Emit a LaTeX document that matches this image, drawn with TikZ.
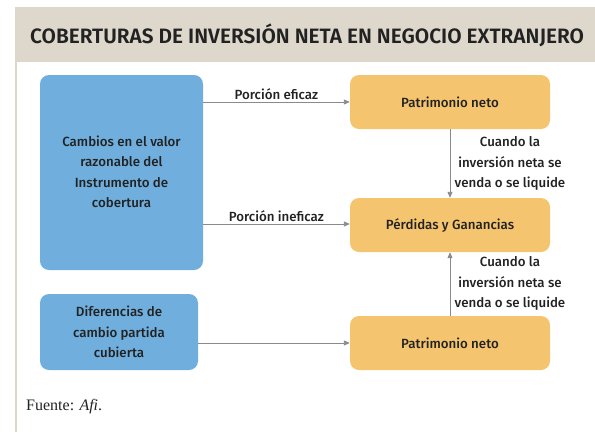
\documentclass[tikz,border=0pt]{standalone}
\usepackage{fontspec}
\setmainfont{Liberation Serif}
\newfontfamily\boxfont{Fira Sans Medium}
\newfontfamily\titlefont{Fira Sans SemiBold}
\usetikzlibrary{arrows.meta}
\definecolor{band}{HTML}{DDD8CB}
\definecolor{bluebox}{HTML}{6FAEDD}
\definecolor{orangebox}{HTML}{F5C46E}
\definecolor{arrowgray}{HTML}{8A8A8A}
\definecolor{txt}{HTML}{222222}
\begin{document}
\begin{tikzpicture}[x=1pt,y=-1pt,
  bbox/.style={fill=bluebox,rounded corners=9pt,draw=none,text=txt,font=\boxfont\fontsize{13.3}{20.5}\selectfont,align=center},
  obox/.style={fill=orangebox,rounded corners=9pt,draw=none,text=txt,font=\boxfont\fontsize{13.3}{20.5}\selectfont,align=center},
  conn/.style={draw=arrowgray,line width=0.9pt,-{Triangle[length=6pt,width=5pt]}},
  lbl/.style={text=txt,font=\boxfont\fontsize{13.3}{20.5}\selectfont,align=center}]
\useasboundingbox (0,0) rectangle (595,432);
\fill[band] (15,7) rectangle (595,62);
\fill[band] (15,62) rectangle (17,432);
\node[anchor=west,text=txt,font=\titlefont\fontsize{20.8}{22}\selectfont,inner sep=0pt] (title) at (30,35) {COBERTURAS DE INVERSIÓN NETA EN NEGOCIO EXTRANJERO};
\path[bbox] (40,75) rectangle (203,270);
\node[lbl] (cambios) at (121.5,172) {Cambios en el valor\\razonable del\\Instrumento de\\cobertura};
\coordinate (c1) at (203,102);
\coordinate (c2) at (203,224);
\node[obox,minimum width=200pt,minimum height=54pt] (pn1) at (450,102) {Patrimonio neto};
\node[obox,minimum width=200pt,minimum height=54pt] (pyg) at (450,225) {Pérdidas y Ganancias};
\node[obox,minimum width=200pt,minimum height=54pt] (pn2) at (450,343) {Patrimonio neto};
\node[bbox,minimum width=158pt,minimum height=76pt] (dif) at (119,332) {Diferencias de\\cambio partida\\cubierta};
\draw[conn] (c1) -- (c1 -| pn1.west) node[midway,above,lbl,inner sep=2pt] {Porción eficaz};
\draw[conn] (c2) -- (c2 -| pyg.west) node[midway,above,lbl,inner sep=2pt] {Porción ineficaz};
\draw[conn] (dif.east |- pn2.west) -- (pn2.west);
\draw[conn] (pn1.south) -- (pyg.north);
\draw[conn] (pn2.north) -- (pyg.south);
\node[lbl] (l1) at (510,163.5) {Cuando la\\inversión neta se\\venda o se liquide};
\node[lbl] (l2) at (510,283.5) {Cuando la\\inversión neta se\\venda o se liquide};
\node[anchor=west,text=txt,font=\fontsize{16}{18}\selectfont,inner sep=0pt] (fuente) at (26,407) {Fuente: \textit{Afi}.};
\end{tikzpicture}
\end{document}
